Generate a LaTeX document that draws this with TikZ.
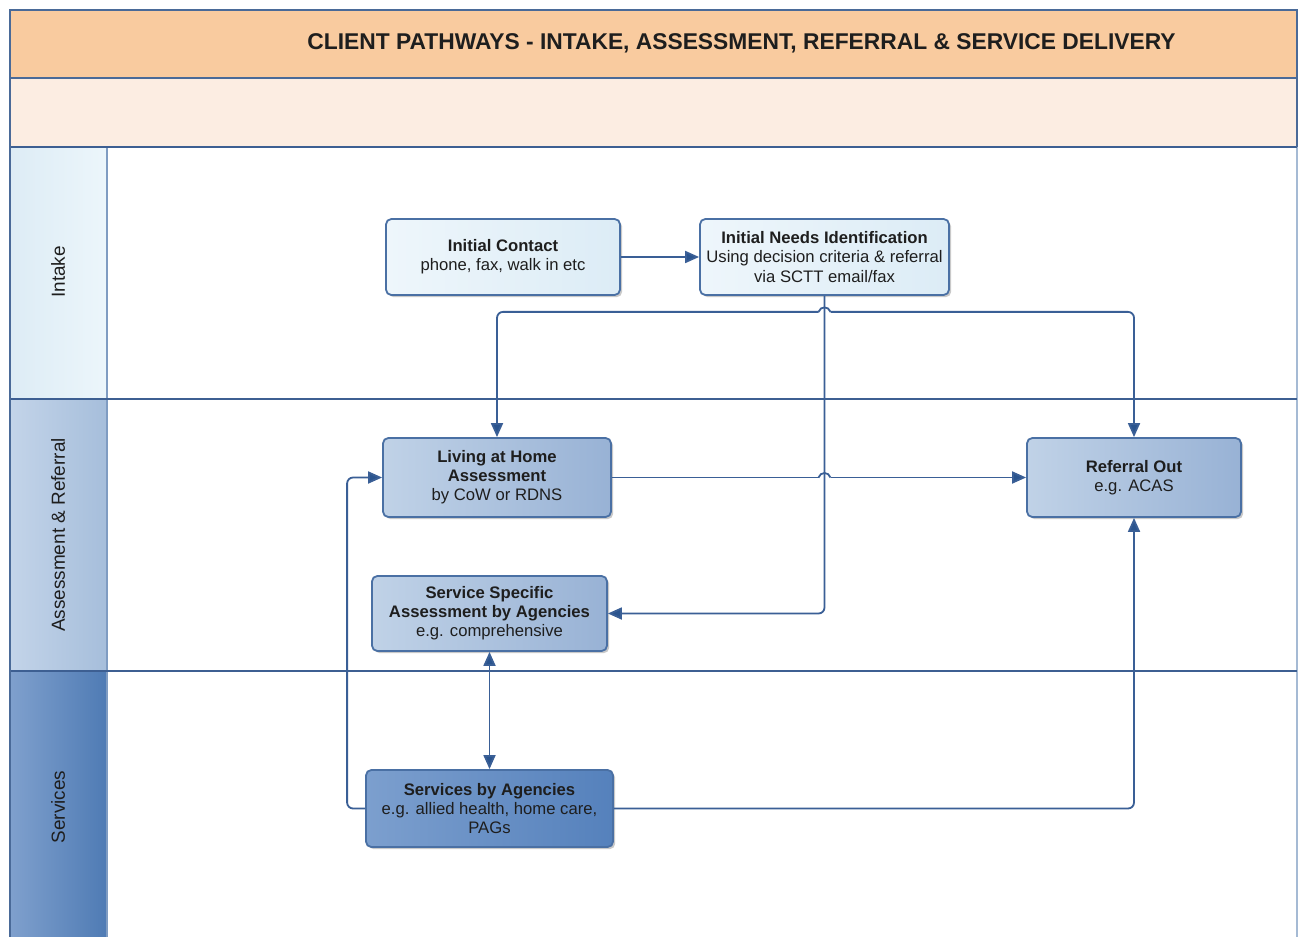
\documentclass[tikz,border=0pt]{standalone}
\usepackage{fontspec}
\setmainfont{Liberation Sans}
\usetikzlibrary{arrows.meta,shadows,calc}
\definecolor{hdr}{HTML}{F9CB9F}
\definecolor{hdrlight}{HTML}{FCEDE2}
\definecolor{frameline}{HTML}{4A6A98}
\definecolor{laneline}{HTML}{3D5F92}
\definecolor{colline}{HTML}{7F9CC2}
\definecolor{conn}{HTML}{3A5F96}
\definecolor{tipc}{HTML}{2A548E}
\definecolor{boxline}{HTML}{4A70A4}
\definecolor{txt}{HTML}{1E1E1E}
\definecolor{intA}{HTML}{DDECF5}
\definecolor{intB}{HTML}{ECF6FB}
\definecolor{asA}{HTML}{C3D4E9}
\definecolor{asB}{HTML}{A6BEDB}
\definecolor{svA}{HTML}{7FA0CD}
\definecolor{svB}{HTML}{4F7BB4}
\definecolor{ibA}{HTML}{EEF6FB}
\definecolor{ibB}{HTML}{DCECF6}
\definecolor{abA}{HTML}{C0D2E7}
\definecolor{abB}{HTML}{98B2D5}
\definecolor{sbA}{HTML}{7C9FCE}
\definecolor{sbB}{HTML}{5581BC}
\tikzset{
  box/.style={draw=boxline, line width=1.35pt, rounded corners=4pt, align=center,
    inner sep=1pt, text=txt, font=\fontsize{12.5}{14.3}\selectfont,
    drop shadow={shadow xshift=1.6pt, shadow yshift=-1.6pt, opacity=0.35, fill=black!60}},
  intakebox/.style={box, left color=ibA, right color=ibB},
  assessbox/.style={box, left color=abA, right color=abB},
  servbox/.style={box, left color=sbA, right color=sbB},
  lanelabel/.style={rotate=90, text=txt, font=\fontsize{14.2}{16}\selectfont},
  conn/.style={draw=conn, line width=1.35pt, rounded corners=4.5pt},
  hopline/.style={draw=conn, line width=1.35pt},
  arr/.style={-{Triangle[length=10.5pt,width=9pt,fill=tipc]}},
  revarr/.style={{Triangle[length=10.5pt,width=9pt,fill=tipc]}-},
  biarr/.style={{Triangle[length=10.5pt,width=9pt,fill=tipc]}-{Triangle[length=10.5pt,width=9pt,fill=tipc]}},
}
\begin{document}
\begin{tikzpicture}[x=0.75pt,y=-0.75pt]
\useasboundingbox (0,0) rectangle (1298,937);
\clip (0,0) rectangle (1298,937);
% background bands
\fill[white] (0,0) rectangle (1298,937);
\fill[hdr] (10,10) rectangle (1297,78);
\fill[hdrlight] (10,78) rectangle (1297,147);
\shade[left color=intA, right color=intB] (10,147) rectangle (107,399);
\shade[left color=asA, right color=asB] (10,399) rectangle (107,671);
\shade[left color=svA, right color=svB] (10,671) rectangle (107,945);
% lines
\draw[colline, line width=1.5pt] (107,147) -- (107,945);
\draw[colline!70, line width=1.4pt] (1297,147) -- (1297,945);
\draw[laneline, line width=1.3pt] (10,147) -- (1297,147);
\draw[laneline, line width=1.1pt] (10,399) -- (1297,399);
\draw[laneline, line width=1.1pt] (10,671) -- (1297,671);
\draw[frameline, line width=1.5pt] (10,78) -- (1297,78);
\draw[frameline, line width=1.6pt] (10,945) -- (10,10) -- (1297,10) -- (1297,147);
% title
\node[text=txt, font=\fontsize{17.1}{20}\selectfont\bfseries] (title) at (741.5,43) {CLIENT PATHWAYS - INTAKE, ASSESSMENT, REFERRAL \& SERVICE DELIVERY};
% lane labels
\node[lanelabel] (lintake) at (58,272) {Intake};
\node[lanelabel] (lassess) at (58,535) {Assessment \& Referral};
\node[lanelabel] (lserv) at (58,807) {Services};
% nodes
\node[intakebox, minimum width=175.5pt, minimum height=57pt] (IC) at (503,257)
  {\textbf{Initial Contact}\\phone, fax, walk in etc};
\node[intakebox, minimum width=186.75pt, minimum height=57pt] (INI) at (824.5,257)
  {\textbf{Initial Needs Identification}\\Using decision criteria \& referral\\via SCTT email/fax};
\node[assessbox, minimum width=171pt, minimum height=59.25pt] (LAH) at (497,477.5)
  {\textbf{Living at Home}\\\textbf{Assessment}\\by CoW or RDNS};
\node[assessbox, minimum width=160.5pt, minimum height=59.25pt] (RO) at (1134,477.5)
  {\textbf{Referral Out}\\e.g. ACAS};
\node[assessbox, minimum width=176.25pt, minimum height=56.25pt] (SSA) at (489.5,613.5)
  {\textbf{Service Specific}\\\textbf{Assessment by Agencies}\\e.g. comprehensive};
\node[servbox, minimum width=185.25pt, minimum height=57.75pt] (SBA) at (489.5,808.5)
  {\textbf{Services by Agencies}\\e.g. allied health, home care,\\PAGs};
% connectors
\coordinate (split) at ($(INI.south)+(0,16)$);
\coordinate (hop2) at (LAH.east -| INI.south);
\draw[conn, arr] (IC.east) -- (INI.west);
\draw[conn, arr] (INI.south) |- (SSA.east);
% INI -> LAH and INI -> RO (shared horizontal with a line jump)
\draw[conn, revarr] (LAH.north) |- ([xshift=-4.5pt]split);
\draw[hopline] ([xshift=-4.5pt]split)
  .. controls ([xshift=-3pt,yshift=4.5pt]split) and ([xshift=3pt,yshift=4.5pt]split) .. ([xshift=4.5pt]split);
\draw[conn, arr] ([xshift=4.5pt]split) -| (RO.north);
% LAH -> RO with a line jump
\draw[conn] (LAH.east) -- ([xshift=-4.5pt]hop2);
\draw[hopline] ([xshift=-4.5pt]hop2)
  .. controls ([xshift=-3pt,yshift=4.5pt]hop2) and ([xshift=3pt,yshift=4.5pt]hop2) .. ([xshift=4.5pt]hop2);
\draw[conn, arr] ([xshift=4.5pt]hop2) -- (RO.west);
\draw[conn, biarr] (SSA.south) -- (SBA.north);
\draw[conn, arr] (SBA.west) -- ++(-18,0) |- (LAH.west);
\draw[conn, arr] (SBA.east) -| (RO.south);
\end{tikzpicture}
\end{document}
